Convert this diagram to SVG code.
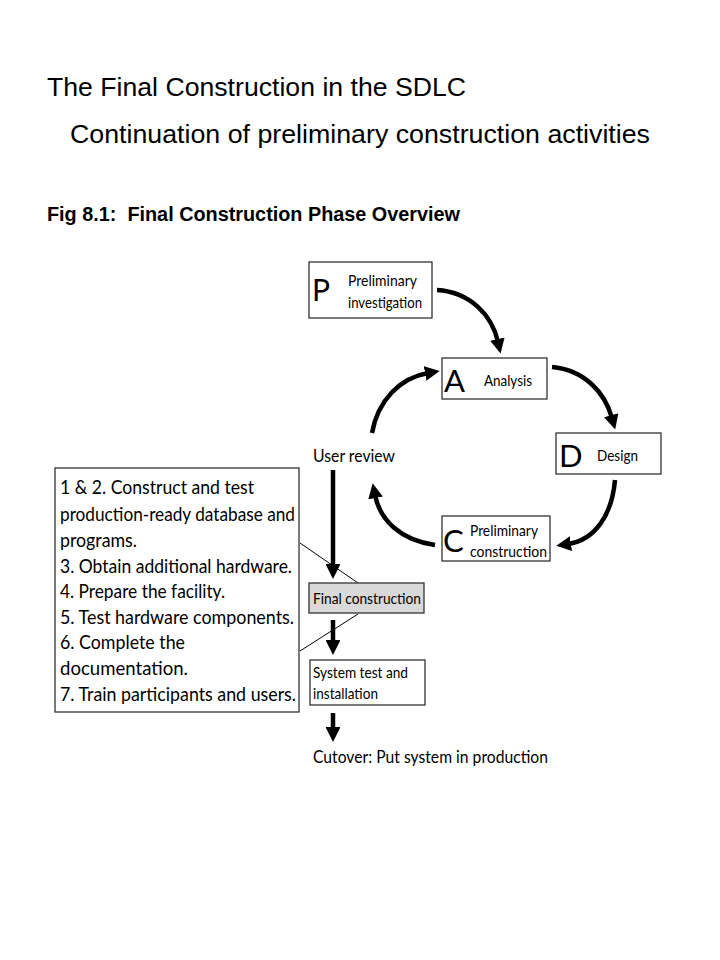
<svg xmlns="http://www.w3.org/2000/svg" width="720" height="960" viewBox="0 0 720 960">
<defs>
<style>
.h{font-family:"Liberation Sans",Arial,sans-serif;fill:#000}
.g{font-family:Lato,"Open Sans",sans-serif;fill:#000}
.box{fill:#fff;stroke:#333;stroke-width:1.3}
.arr{fill:none;stroke:#000;stroke-width:4.5;stroke-linecap:butt}
.thin{fill:none;stroke:#000;stroke-width:1}
</style>
<marker id="ah" viewBox="0 0 10 10" refX="2" refY="5" markerWidth="3.3" markerHeight="3.3" orient="auto" markerUnits="strokeWidth">
<path d="M0,0 L10,5 L0,10 Z" fill="#000"/>
</marker>
</defs>
<rect width="720" height="960" fill="#fff"/>
<text class="h" x="47" y="96" font-size="26.7" textLength="419" lengthAdjust="spacingAndGlyphs">The Final Construction in the SDLC</text>
<text class="h" x="70" y="143" font-size="26.7" textLength="580" lengthAdjust="spacingAndGlyphs">Continuation of preliminary construction activities</text>
<text class="h" x="47" y="221" font-size="20" font-weight="bold" textLength="413" lengthAdjust="spacingAndGlyphs">Fig 8.1:&#160; Final Construction Phase Overview</text>

<g id="connectors">
<path class="arr" marker-end="url(#ah)" d="M437,290 C470,292 492,315 498,342"/>
<path class="arr" marker-end="url(#ah)" d="M552,367 C585,370 605,393 612,418"/>
<path class="arr" marker-end="url(#ah)" d="M615,480 C612,515 595,540 568,544"/>
<path class="arr" marker-end="url(#ah)" d="M435,545 C400,540 380,520 375,495"/>
<path class="arr" marker-end="url(#ah)" d="M372,433 C378,400 400,378 428,373"/>
<path class="arr" marker-end="url(#ah)" d="M333,470 L333,567"/>
<path class="arr" marker-end="url(#ah)" d="M333,620 L333,643"/>
<path class="arr" marker-end="url(#ah)" d="M333,713 L333,730"/>
<path class="thin" d="M300,543 L358,583"/>
<path class="thin" d="M300,651 L358,614"/>
</g>

<g id="node-p">
<rect class="box" x="309" y="262" width="123" height="56"/>
<text class="g" x="312" y="301" font-size="30">P</text>
<text class="g" x="348" y="286" font-size="15" textLength="69" lengthAdjust="spacingAndGlyphs">Preliminary</text>
<text class="g" x="348" y="308" font-size="15" textLength="74" lengthAdjust="spacingAndGlyphs">investigation</text>
</g>
<g id="node-a">
<rect class="box" x="442" y="358" width="105" height="41"/>
<text class="g" x="444" y="392" font-size="31">A</text>
<text class="g" x="484" y="386" font-size="15" textLength="48" lengthAdjust="spacingAndGlyphs">Analysis</text>
</g>
<g id="node-d">
<rect class="box" x="556" y="433" width="105" height="41"/>
<text class="g" x="559" y="467" font-size="31">D</text>
<text class="g" x="597" y="461" font-size="15" textLength="41" lengthAdjust="spacingAndGlyphs">Design</text>
</g>
<g id="node-c">
<rect class="box" x="442" y="516" width="108" height="45"/>
<text class="g" x="443" y="552" font-size="31">C</text>
<text class="g" x="470" y="536" font-size="15" textLength="68" lengthAdjust="spacingAndGlyphs">Preliminary</text>
<text class="g" x="470" y="557" font-size="15" textLength="77" lengthAdjust="spacingAndGlyphs">construction</text>
</g>
<g id="node-user-review">
<text class="g" x="313" y="462" font-size="16.5" textLength="82" lengthAdjust="spacingAndGlyphs">User review</text>
</g>
<g id="node-final">
<rect x="309" y="583" width="115" height="30" fill="#d9d9d9" stroke="#333" stroke-width="1.3"/>
<text class="g" x="313" y="604" font-size="15" textLength="108" lengthAdjust="spacingAndGlyphs">Final construction</text>
</g>
<g id="node-system-test">
<rect class="box" x="310" y="660" width="115" height="45"/>
<text class="g" x="313" y="678" font-size="15" textLength="95" lengthAdjust="spacingAndGlyphs">System test and</text>
<text class="g" x="313" y="699" font-size="15" textLength="65" lengthAdjust="spacingAndGlyphs">installation</text>
</g>
<g id="node-cutover">
<text class="g" x="313" y="763" font-size="16.5" textLength="235" lengthAdjust="spacingAndGlyphs">Cutover: Put system in production</text>
</g>
<g id="node-activities">
<rect class="box" x="55" y="468" width="244" height="244"/>
<g class="g" font-size="19">
<text class="g" x="60" y="494" textLength="194" lengthAdjust="spacingAndGlyphs">1 &amp; 2. Construct and test</text>
<text class="g" x="60" y="521" textLength="235" lengthAdjust="spacingAndGlyphs">production-ready database and</text>
<text class="g" x="60" y="547" textLength="77" lengthAdjust="spacingAndGlyphs">programs.</text>
<text class="g" x="60" y="573" textLength="232" lengthAdjust="spacingAndGlyphs">3. Obtain additional hardware.</text>
<text class="g" x="60" y="598" textLength="165" lengthAdjust="spacingAndGlyphs">4. Prepare the facility.</text>
<text class="g" x="60" y="624" textLength="234" lengthAdjust="spacingAndGlyphs">5. Test hardware components.</text>
<text class="g" x="60" y="649" textLength="125" lengthAdjust="spacingAndGlyphs">6. Complete the</text>
<text class="g" x="60" y="675" textLength="128" lengthAdjust="spacingAndGlyphs">documentation.</text>
<text class="g" x="60" y="701" textLength="236" lengthAdjust="spacingAndGlyphs">7. Train participants and users.</text>
</g>
</g>
</svg>
